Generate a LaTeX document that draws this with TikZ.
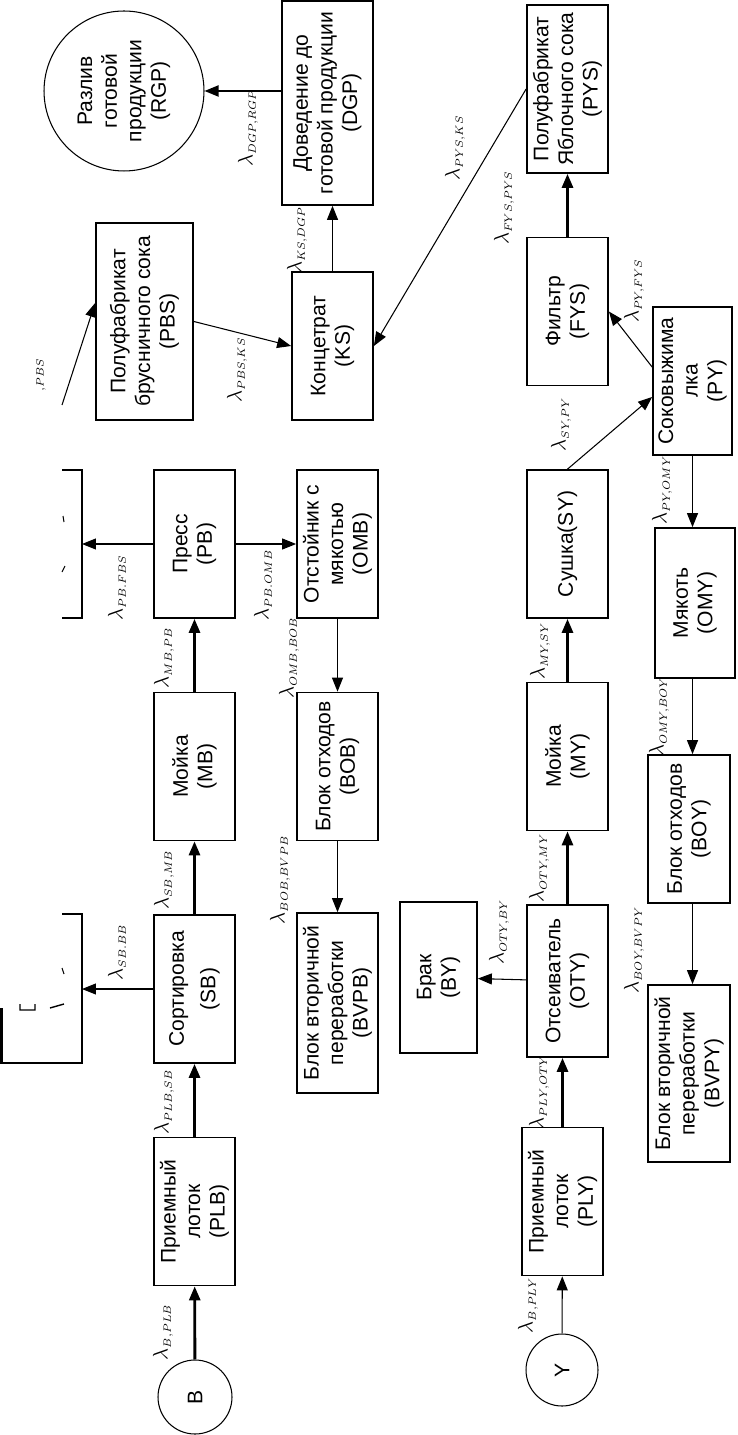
\documentclass[tikz,border=0pt,12pt]{standalone}
\usepackage{fontspec}
\setmainfont{Liberation Sans}
\usepackage{tikz}
\usetikzlibrary{arrows.meta}
\newcommand\boxfont{\fontsize{12}{14}\selectfont}
\newcommand\lam[1]{$\lambda_{\scriptscriptstyle #1}$}
\tikzset{
  blk/.style     ={draw,line width=1pt,rotate=90,align=center,font=\boxfont,inner sep=1pt},
  std/.style     ={blk,minimum width=2.96cm,minimum height=1.62cm},
  src/.style     ={draw,circle,line width=0.6pt,rotate=90,align=center,font=\boxfont,inner sep=0pt},
  flow/.style    ={-{Triangle[length=0.28cm,width=0.22cm]},line width=0.6pt},
  mainflow/.style={flow,line width=1.6pt},
  lab/.style     ={rotate=90,font=\fontsize{13}{13}\selectfont,inner sep=0pt},
  trunc/.style   ={line width=1pt},
}
\begin{document}
\begin{tikzpicture}[x=0.02cm,y=-0.02cm]
\useasboundingbox (0,0) rectangle (737,1435);
% -- berry line
\node[std] (pb)  at (194.5,544)    {Пресс\\(PB)};
\node[std] (mb)  at (194.5,766.5)  {Мойка\\(MB)};
\node[std] (sb)  at (194.5,989)    {Сортировка\\[4pt](SB)};
\node[std] (plb) at (194.5,1211.5) {Приемный\\лоток\\(PLB)};
\node[src,minimum size=1.48cm] (b) at (195,1397) {В};
\node[std] (omb) at (337.5,544)    {Отстойник с\\мякотью\\(OMB)};
\node[std] (bob) at (337.5,766.5)  {Блок отходов\\(BOB)};
\node[blk,minimum width=3.6cm,minimum height=1.62cm] (bvpb) at (337.5,1003)
  {Блок вторичной\\переработки\\(BVPB)};
\node[blk,minimum width=3.94cm,minimum height=1.94cm] (pbs) at (144.5,321.5)
  {Полуфабрикат\\брусничного сока\\(PBS)};
\node[std] (ks)  at (332.5,346)    {Концетрат\\(KS)};
\node[blk,minimum width=4.08cm,minimum height=1.82cm] (dgp) at (327.5,103)
  {Доведение до\\готовой продукции\\(DGP)};
\node[src,minimum size=3.2cm] (rgp) at (124,91) {Разлив\\готовой\\продукции\\(RGP)};
% -- apple line
\node[blk,minimum width=3.36cm,minimum height=1.62cm] (pys) at (567.5,89)
  {Полуфабрикат\\Яблочного сока\\(PYS)};
\node[std] (fys) at (567.5,311.5)  {Фильтр\\(FYS)};
\node[std] (sy)  at (567.5,544)    {Сушка(SY)};
\node[std] (my)  at (567.5,756.5)  {Мойка\\(MY)};
\node[blk,minimum width=3.04cm,minimum height=1.62cm] (oty) at (567.5,981) {Отсеиватель\\(OTY)};
\node[std] (ply) at (562.5,1201.5) {Приемный\\лоток\\(PLY)};
\node[src,minimum size=1.44cm] (y) at (562,1370) {Y};
\node[blk,minimum width=3.02cm,minimum height=1.54cm] (by) at (438.5,977.5) {Брак\\(BY)};
\node[blk,minimum width=2.96cm,minimum height=1.58cm] (py) at (692.5,381) {Соковыжима\\лка\\(PY)};
\node[blk,minimum width=3.0cm,minimum height=1.6cm] (omy) at (695,603) {Мякоть\\(OMY)};
\node[blk,minimum width=2.96cm,minimum height=1.64cm] (boy) at (689,829) {Блок отходов\\(BOY)};
\node[blk,minimum width=3.54cm,minimum height=1.64cm] (bvpy) at (689,1073.5)
  {Блок вторичной\\переработки\\(BVPY)};
% -- cut-off blocks on the left edge
\draw[trunc] (62,470) -- (82,470) -- (82,618) -- (62,618);
\draw[trunc] (62,914) -- (82,914) -- (82,1063) -- (0,1063);
\draw[line width=1.8pt] (1,1008) -- (1,1063);
\draw[line width=0.6pt] (63,516) -- (64,522) (62,572) -- (65,566) (62,968) -- (64,974);
\draw[line width=0.8pt] (20,1004) -- (20,1010) -- (35,1010) -- (35,1004) (50,1008) -- (64,1004);
\coordinate (fbs) at (82,544);
\coordinate (bb) at (82,989);
\coordinate (pbsin) at (62,405);
% -- connectors
\draw[mainflow] (b) -- (plb);
\draw[mainflow] (plb) -- (sb);
\draw[mainflow] (sb) -- (mb);
\draw[mainflow] (mb) -- (pb);
\draw[flow] (sb) -- (bb);
\draw[flow] (pb) -- (fbs);
\draw[flow] (pb) -- (omb);
\draw[flow] (omb) -- (bob);
\draw[flow] (bob) -- (bvpb);
\draw[flow] (pbsin) -- ([yshift=0.37cm]pbs.north);
\draw[flow] (pbs.south) -- (ks.north);
\draw[flow] (ks) -- (ks |- dgp.west);
\draw[flow,line width=1.1pt] (dgp.north |- rgp) -- (rgp);
\draw[flow] (pys.north) -- (ks.south);
\draw[mainflow] (fys) -- (pys);
\draw[flow] ([yshift=0.28cm]py.north) -- (fys.south);
\draw[flow] (sy.east) -- ([yshift=-0.32cm]py.north);
\draw[flow] (py) -- (py |- omy.east);
\draw[flow] (py |- omy.west) -- (py |- boy.east);
\draw[flow] (py |- boy.west) -- (py |- bvpy.east);
\draw[mainflow] (my) -- (sy);
\draw[mainflow] (oty) -- (my);
\draw[mainflow] (ply) -- (ply |- oty.west);
\draw[flow] (y) -- (ply);
\draw[flow] (oty) -- (by);
% -- rates
\node[lab] (lDgpRgp)  at (248,128)  {\lam{DGP,RGP}};
\node[lab] (lKsDgp)   at (297,240)  {\lam{KS,DGP}};
\node[lab] (lPbsKs)   at (237,370)  {\lam{PBS,KS}};
\node[lab] (lPbs)     at (41,375)   {$\scriptscriptstyle ,PBS$};
\node[lab] (lPysKs)   at (455,148)  {\lam{PYS,KS}};
\node[lab] (lFysPys)  at (504,208)  {\lam{FYS,PYS}};
\node[lab] (lPyFys)   at (634,291)  {\lam{PY,FYS}};
\node[lab] (lSyPy)    at (561,424)  {\lam{SY,PY}};
\node[lab] (lPyOmy)   at (662,490)  {\lam{PY,OMY}};
\node[lab] (lMySy)    at (540,651)  {\lam{MY,SY}};
\node[lab] (lOmyBoy)  at (659,717)  {\lam{OMY,BOY}};
\node[lab] (lOtyMy)   at (539,868)  {\lam{OTY,MY}};
\node[lab] (lOtyBy)   at (499,932)  {\lam{OTY,BY}};
\node[lab] (lBoyBvpy) at (634,950)  {\lam{BOY,BVPY}};
\node[lab] (lPlyOty)  at (539,1092) {\lam{PLY,OTY}};
\node[lab] (lBPly)    at (528,1305) {\lam{B,PLY}};
\node[lab] (lBPlb)    at (163,1332) {\lam{B,PLB}};
\node[lab] (lPlbSb)   at (164,1102) {\lam{PLB,SB}};
\node[lab] (lSbBb)    at (117,952)  {\lam{SB.BB}};
\node[lab] (lSbMb)    at (164,880)  {\lam{SB,MB}};
\node[lab] (lBobBvpb) at (280,880)  {\lam{BOB,BVPB}};
\node[lab] (lMbPb)    at (164,658)  {\lam{MB,PB}};
\node[lab] (lOmbBob)  at (289,658)  {\lam{OMB,BOB}};
\node[lab] (lPbFbs)   at (117,588)  {\lam{PB.FBS}};
\node[lab] (lPbOmb)   at (263,585)  {\lam{PB.OMB}};
\end{tikzpicture}
\end{document}
